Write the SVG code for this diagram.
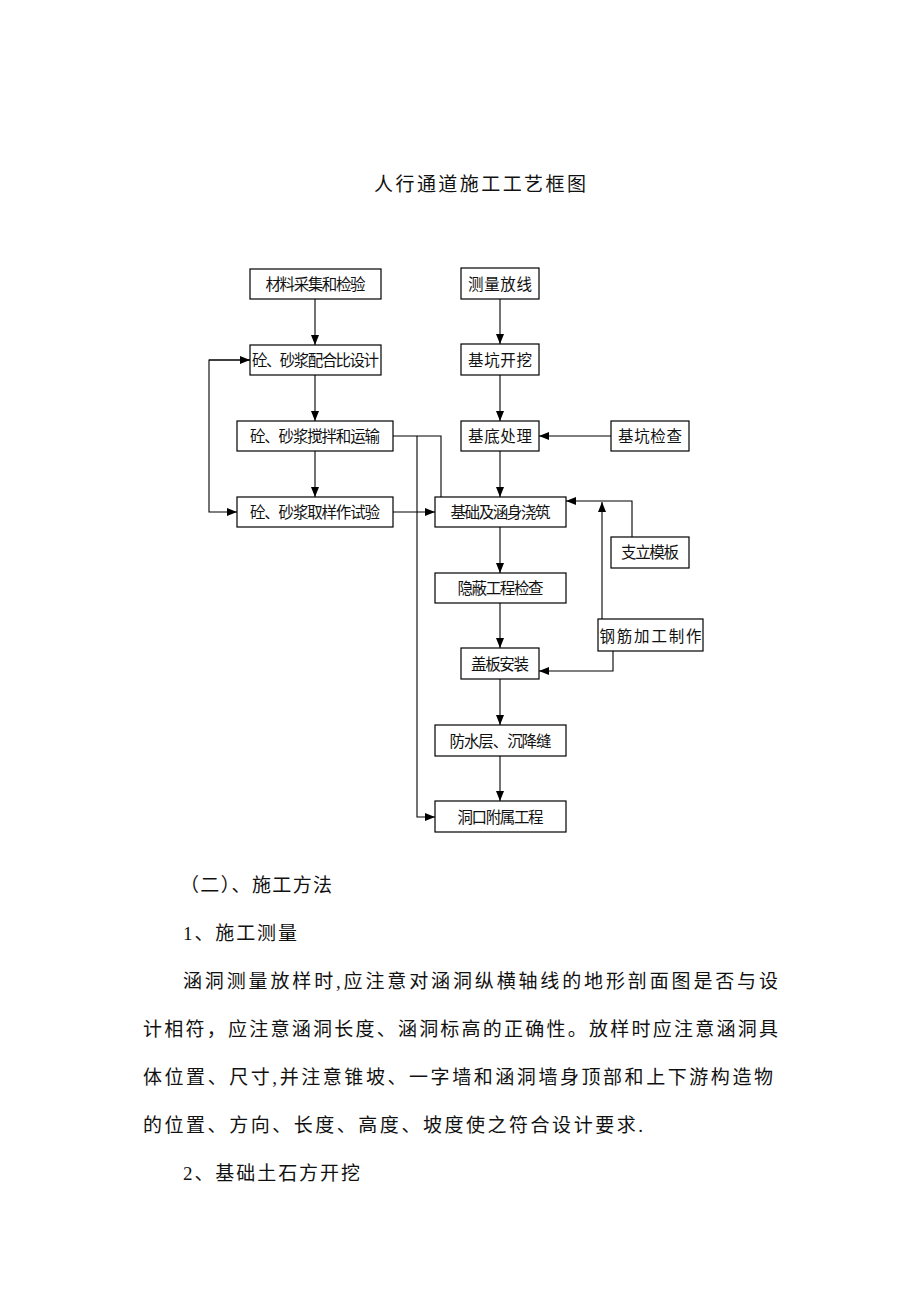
<svg xmlns="http://www.w3.org/2000/svg" width="920" height="1302" viewBox="0 0 920 1302">
<style>
.box{fill:#fff;stroke:#000;stroke-width:1.2}
.t{font-family:"Liberation Serif","Noto Sans CJK SC",serif;font-size:15.5px;fill:#111;text-anchor:middle}
.c{fill:none;stroke:#000;stroke-width:1.1}
.p{font-family:"Liberation Serif","Noto Sans CJK SC",serif;font-size:19px;fill:#111}
</style>
<defs>
<marker id="ah" viewBox="0 0 10 8" refX="10" refY="4" markerWidth="10" markerHeight="8" markerUnits="userSpaceOnUse" orient="auto">
<path d="M0,0 L10,4 L0,8 z" fill="#000"/>
</marker>
</defs>
<rect width="920" height="1302" fill="#fff"/>
<text x="480" y="191" class="p" font-size="20" text-anchor="middle" textLength="212" lengthAdjust="spacing">人行通道施工工艺框图</text>

<g id="connectors">
<path class="c" d="M315,299 V345" marker-end="url(#ah)"/>
<path class="c" d="M315,375 V421" marker-end="url(#ah)"/>
<path class="c" d="M315,451 V497" marker-end="url(#ah)"/>
<path class="c" d="M250,360 H209 V512 H237" marker-end="url(#ah)"/>
<path class="c" d="M209,360 H250" marker-end="url(#ah)"/>
<path class="c" d="M393,512 H435" marker-end="url(#ah)"/>
<path class="c" d="M393,436 H441 V497"/>
<path class="c" d="M417,436 V817 H435" marker-end="url(#ah)"/>
<path class="c" d="M500,299 V344" marker-end="url(#ah)"/>
<path class="c" d="M500,375 V421" marker-end="url(#ah)"/>
<path class="c" d="M500,451 V497" marker-end="url(#ah)"/>
<path class="c" d="M500,527 V573" marker-end="url(#ah)"/>
<path class="c" d="M500,603 V648" marker-end="url(#ah)"/>
<path class="c" d="M500,679 V725" marker-end="url(#ah)"/>
<path class="c" d="M500,756 V801" marker-end="url(#ah)"/>
<path class="c" d="M611,436 H539" marker-end="url(#ah)"/>
<path class="c" d="M632,537 V501 H566" marker-end="url(#ah)"/>
<path class="c" d="M602,619 V502" marker-end="url(#ah)"/>
<path class="c" d="M613,651 V671 H539" marker-end="url(#ah)"/>
</g>

<g id="n1"><rect class="box" x="250" y="269" width="131" height="30"/><text class="t" x="315.5" y="290" textLength="100" lengthAdjust="spacing">材料采集和检验</text></g>
<g id="n2"><rect class="box" x="250" y="345" width="131" height="30"/><text class="t" x="315.5" y="366" textLength="127" lengthAdjust="spacing">砼、砂浆配合比设计</text></g>
<g id="n3"><rect class="box" x="237" y="421" width="156" height="30"/><text class="t" x="315" y="442" textLength="130" lengthAdjust="spacing">砼、砂浆搅拌和运输</text></g>
<g id="n4"><rect class="box" x="237" y="497" width="156" height="30"/><text class="t" x="315" y="518" textLength="130" lengthAdjust="spacing">砼、砂浆取样作试验</text></g>
<g id="n5"><rect class="box" x="461" y="268" width="78" height="31"/><text class="t" x="500" y="290" textLength="64" lengthAdjust="spacing">测量放线</text></g>
<g id="n6"><rect class="box" x="461" y="344" width="78" height="31"/><text class="t" x="500" y="366" textLength="64" lengthAdjust="spacing">基坑开挖</text></g>
<g id="n7"><rect class="box" x="461" y="421" width="78" height="30"/><text class="t" x="500" y="442" textLength="64" lengthAdjust="spacing">基底处理</text></g>
<g id="n8"><rect class="box" x="611" y="421" width="78" height="30"/><text class="t" x="650" y="442" textLength="64" lengthAdjust="spacing">基坑检查</text></g>
<g id="n9"><rect class="box" x="435" y="497" width="131" height="30"/><text class="t" x="500.5" y="518" textLength="100" lengthAdjust="spacing">基础及涵身浇筑</text></g>
<g id="n10"><rect class="box" x="611" y="537" width="78" height="31"/><text class="t" x="650" y="558" textLength="58" lengthAdjust="spacing">支立模板</text></g>
<g id="n11"><rect class="box" x="435" y="573" width="131" height="30"/><text class="t" x="500.5" y="594" textLength="86" lengthAdjust="spacing">隐蔽工程检查</text></g>
<g id="n12"><rect class="box" x="598" y="619" width="105" height="32"/><text class="t" x="650.5" y="642" font-size="18" textLength="102" lengthAdjust="spacing">钢筋加工制作</text></g>
<g id="n13"><rect class="box" x="461" y="648" width="78" height="31"/><text class="t" x="500" y="670" textLength="58" lengthAdjust="spacing">盖板安装</text></g>
<g id="n14"><rect class="box" x="435" y="725" width="131" height="31"/><text class="t" x="500.5" y="747" textLength="102" lengthAdjust="spacing">防水层、沉降缝</text></g>
<g id="n15"><rect class="box" x="435" y="801" width="131" height="31"/><text class="t" x="500.5" y="823" textLength="86" lengthAdjust="spacing">洞口附属工程</text></g>

<g id="body">
<text class="p" x="180" y="892" textLength="152" lengthAdjust="spacing">（二）、施工方法</text>
<text class="p" x="183" y="940" textLength="114" lengthAdjust="spacing">1、施工测量</text>
<text class="p" x="183" y="988" textLength="595" lengthAdjust="spacing">涵洞测量放样时,应注意对涵洞纵横轴线的地形剖面图是否与设</text>
<text class="p" x="143" y="1036" textLength="635" lengthAdjust="spacing">计相符，应注意涵洞长度、涵洞标高的正确性。放样时应注意涵洞具</text>
<text class="p" x="143" y="1084" textLength="630" lengthAdjust="spacing">体位置、尺寸,并注意锥坡、一字墙和涵洞墙身顶部和上下游构造物</text>
<text class="p" x="143" y="1132" textLength="500" lengthAdjust="spacing">的位置、方向、长度、高度、坡度使之符合设计要求.</text>
<text class="p" x="183" y="1180" textLength="177" lengthAdjust="spacing">2、基础土石方开挖</text>
</g>
</svg>
